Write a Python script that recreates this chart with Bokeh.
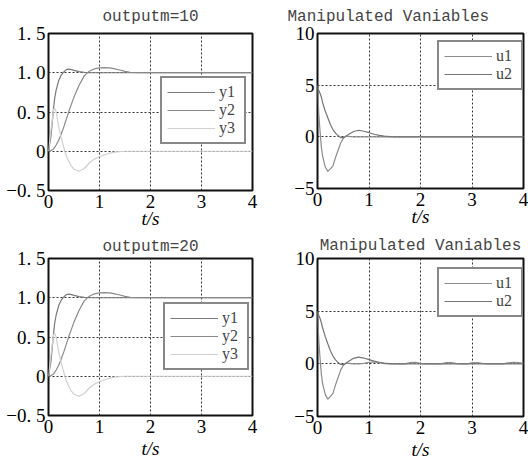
from bokeh.plotting import figure
from bokeh.layouts import column, row
from bokeh.models import Range1d, FixedTicker, Legend, LegendItem
from bokeh.embed import file_html
from bokeh.resources import INLINE

# ---------------- data ----------------
t_y = [0, 0.05, 0.1, 0.12, 0.15, 0.2, 0.25, 0.3, 0.35, 0.4, 0.45, 0.5, 0.6, 0.7, 0.8,
       0.9, 1.0, 1.1, 1.2, 1.3, 1.4, 1.5, 1.6, 1.8, 2.0, 2.5, 3.0, 3.5, 4.0]
y1_10 = [0, 0.2, 0.55, 0.67, 0.78, 0.9, 0.97, 1.01, 1.04, 1.047, 1.04, 1.03, 1.015, 1.005, 1.0,
         1.0, 1.0, 1.0, 1.0, 1.0, 1.0, 1.0, 1.0, 1.0, 1.0, 1.0, 1.0, 1.0, 1.0]
y2_10 = [0, 0.01, 0.03, 0.05, 0.08, 0.14, 0.22, 0.31, 0.41, 0.51, 0.6, 0.69, 0.84, 0.96, 1.02,
         1.05, 1.063, 1.066, 1.062, 1.05, 1.035, 1.018, 1.005, 1.0, 1.0, 1.0, 1.0, 1.0, 1.0]
y3_10 = [0, 0.28, 0.53, 0.55, 0.5, 0.31, 0.17, 0.05, -0.06, -0.13, -0.19, -0.23, -0.255, -0.22, -0.15,
         -0.1, -0.07, -0.045, -0.025, -0.012, -0.005, 0.0, 0.0, 0.0, 0.0, 0.0, 0.0, 0.0, 0.0]
y1_20 = [0, 0.2, 0.55, 0.67, 0.78, 0.9, 0.97, 1.01, 1.04, 1.047, 1.04, 1.03, 1.015, 1.005, 1.0,
         1.0, 1.0, 1.0, 1.0, 1.0, 1.0, 1.0, 1.0, 1.0, 1.0, 1.0, 1.0, 1.0, 1.0]
y2_20 = [0, 0.01, 0.03, 0.05, 0.08, 0.14, 0.22, 0.31, 0.41, 0.51, 0.6, 0.69, 0.84, 0.96, 1.02,
         1.05, 1.063, 1.066, 1.062, 1.05, 1.035, 1.018, 1.005, 1.0, 1.0, 1.0, 1.0, 1.0, 1.0]
y3_20 = [0, 0.28, 0.53, 0.55, 0.5, 0.31, 0.17, 0.05, -0.06, -0.13, -0.19, -0.23, -0.255, -0.22, -0.15,
         -0.1, -0.07, -0.045, -0.025, -0.012, -0.005, 0.0, 0.0, 0.0, 0.0, 0.0, 0.0, 0.0, 0.0]

t_u = [0, 0.025, 0.05, 0.075, 0.1, 0.15, 0.2, 0.25, 0.3, 0.35, 0.4, 0.45, 0.5, 0.55, 0.6,
       0.7, 0.8, 0.9, 1.0, 1.1, 1.2, 1.3, 1.4, 1.5, 1.6, 1.7, 1.8, 1.9, 2.0, 2.1, 2.2, 2.3,
       2.4, 2.5, 2.6, 2.7, 2.8, 2.9, 3.0, 3.1, 3.2, 3.3, 3.4, 3.5, 3.6, 3.7, 3.8, 3.9, 4.0]
u1_10 = [5.0, 2.2, 0.5, -1.0, -1.9, -2.9, -3.35, -3.1, -2.8, -2.0, -1.3, -0.6, -0.15, 0.05, 0.05,
         0.0, 0.0, 0.0, 0.0, 0.0, 0.0, 0.0, 0.0, 0.0, 0.0, 0.0, 0.0, 0.0, 0.0, 0.0, 0.0, 0.0,
         0.0, 0.0, 0.0, 0.0, 0.0, 0.0, 0.0, 0.0, 0.0, 0.0, 0.0, 0.0, 0.0, 0.0, 0.0, 0.0, 0.0]
u2_10 = [4.7, 4.5, 4.2, 3.85, 3.3, 2.5, 1.85, 1.2, 0.7, 0.35, 0.12, -0.07, -0.08, 0.05, 0.22,
         0.52, 0.64, 0.54, 0.4, 0.25, 0.14, 0.06, 0.02, 0.0, 0.0, 0.0, 0.0, 0.0, 0.0, 0.0, 0.0, 0.0,
         0.0, 0.0, 0.0, 0.0, 0.0, 0.0, 0.0, 0.0, 0.0, 0.0, 0.0, 0.0, 0.0, 0.0, 0.0, 0.0, 0.0]
u1_20 = [5.0, 2.2, 0.5, -1.0, -1.9, -2.9, -3.35, -3.1, -2.8, -2.0, -1.3, -0.6, -0.15, 0.05, 0.05,
         0.0, 0.0, 0.05, 0.15, 0.18, 0.1, 0.02, 0.0, 0.0, 0.0, 0.0, 0.12, 0.15, 0.05, 0.0, 0.0, 0.0,
         0.0, 0.12, 0.12, 0.02, 0.0, 0.0, 0.1, 0.12, 0.05, 0.0, 0.0, 0.0, 0.0, 0.1, 0.15, 0.12, 0.05]
u2_20 = [4.8, 4.6, 4.3, 3.9, 3.4, 2.6, 1.9, 1.25, 0.74, 0.38, 0.12, -0.06, -0.08, 0.05, 0.22,
         0.52, 0.64, 0.55, 0.4, 0.26, 0.15, 0.07, 0.02, 0.0, 0.0, 0.0, 0.0, 0.0, 0.0, 0.0, 0.0, 0.0,
         0.0, 0.0, 0.0, 0.0, 0.0, 0.0, 0.0, 0.0, 0.0, 0.0, 0.0, 0.0, 0.0, 0.0, 0.0, 0.0, 0.0]

x_ticks = [0, 1, 2, 3, 4]
y_ticks_out = [-0.5, 0, 0.5, 1, 1.5]
y_labels_out = ["\u22120. 5", "0", "0. 5", "1. 0", "1. 5"]
y_ticks_u = [-5, 0, 5, 10]
y_labels_u = ["\u22125", "0", "5", "10"]

titles = ["outputm=10", "Manipulated Vaniables", "outputm=20", "Manipulated Vaniables"]
x_label = "t/s"
names_y = ["y1", "y2", "y3"]
names_u = ["u1", "u2"]

colors_y = ["#7a7a7a", "#8a8a8a", "#d0d0d0"]
colors_u = ["#8c8c8c", "#767676"]

SERIF = "Liberation Serif"
MONO = "Liberation Mono"


def make_panel(fw, fh, borders, yr, yticks, ylabels, series, names, colors,
               title, title_align, title_offset, title_valign, title_standoff,
               xlabel_standoff, leg_xy):
    left, right, top, bottom = borders
    p = figure(frame_width=fw, frame_height=fh, output_backend="svg", toolbar_location=None,
               x_range=Range1d(0, 4), y_range=Range1d(*yr),
               min_border_left=left, min_border_right=right,
               min_border_top=top, min_border_bottom=bottom,
               title=title)
    p.title.text_font = MONO
    p.title.text_font_size = "16px"
    p.title.text_font_style = "normal"
    p.title.align = title_align
    p.title.offset = title_offset
    p.title.vertical_align = title_valign
    p.title.standoff = title_standoff
    p.background_fill_color = "white"
    p.border_fill_color = "white"
    p.outline_line_color = "#111111"
    p.outline_line_width = 2
    p.xaxis.ticker = FixedTicker(ticks=x_ticks)
    p.yaxis.ticker = FixedTicker(ticks=yticks)
    p.yaxis.major_label_overrides = {float(k): v for k, v in zip(yticks, ylabels)}
    for ax in (p.xaxis, p.yaxis):
        ax.axis_line_color = None
        ax.major_tick_in = 0
        ax.major_tick_out = 0
        ax.minor_tick_line_color = None
        ax.major_label_text_font = SERIF
        ax.major_label_text_font_size = "19px"
        ax.major_label_text_color = "black"
    p.yaxis.major_label_standoff = 3
    p.xaxis.major_label_standoff = 4
    p.xaxis.axis_label = x_label
    p.xaxis.axis_label_text_font = SERIF
    p.xaxis.axis_label_text_font_size = "19px"
    p.xaxis.axis_label_text_font_style = "italic"
    p.xaxis.axis_label_text_color = "black"
    p.xaxis.axis_label_standoff = xlabel_standoff
    p.grid.grid_line_color = "#333333"
    p.grid.grid_line_dash = "2 2"
    p.grid.grid_line_width = 1

    items = []
    tx, ys = series
    for yv, nm, col in zip(ys, names, colors):
        r = p.line(tx, yv, line_color=col, line_width=1.2)
        items.append(LegendItem(label=nm, renderers=[r]))
    leg = Legend(items=items, location=leg_xy)
    leg.border_line_color = "#111111"
    leg.border_line_width = 2
    leg.background_fill_color = "white"
    leg.background_fill_alpha = 1
    leg.label_text_font = SERIF
    leg.label_text_font_size = "16px"
    leg.label_height = 18
    leg.glyph_height = 18
    leg.glyph_width = 48
    leg.label_standoff = 4
    leg.padding = 5
    leg.spacing = 0
    leg.margin = 0
    p.add_layout(leg, "center")
    return p


p1 = make_panel(204, 157, (48, 12, 32, 41), (-0.5, 1.5), y_ticks_out, y_labels_out,
                (t_y, [y1_10, y2_10, y3_10]), names_y, colors_y,
                titles[0], "center", 0, "top", 12, -3, (112, 46))
p2 = make_panel(206, 155, (53, 5, 33, 42), (-5, 10), y_ticks_u, y_labels_u,
                (t_u, [u1_10, u2_10]), names_u, colors_u,
                titles[1], "left", -30, "top", 12, -3, (120, 98))
p3 = make_panel(204, 157, (48, 12, 27, 47), (-0.5, 1.5), y_ticks_out, y_labels_out,
                (t_y, [y1_20, y2_20, y3_20]), names_y, colors_y,
                titles[2], "center", 0, "bottom", 5, 2, (115, 45))
p4 = make_panel(206, 158, (53, 5, 26, 47), (-5, 10), y_ticks_u, y_labels_u,
                (t_u, [u1_20, u2_20]), names_u, colors_u,
                titles[3], "center", 0, "bottom", 8, 2, (120, 99))

layout = column(row(p1, p2), row(p3, p4))
open("out.html", "w").write(file_html(layout, INLINE))
